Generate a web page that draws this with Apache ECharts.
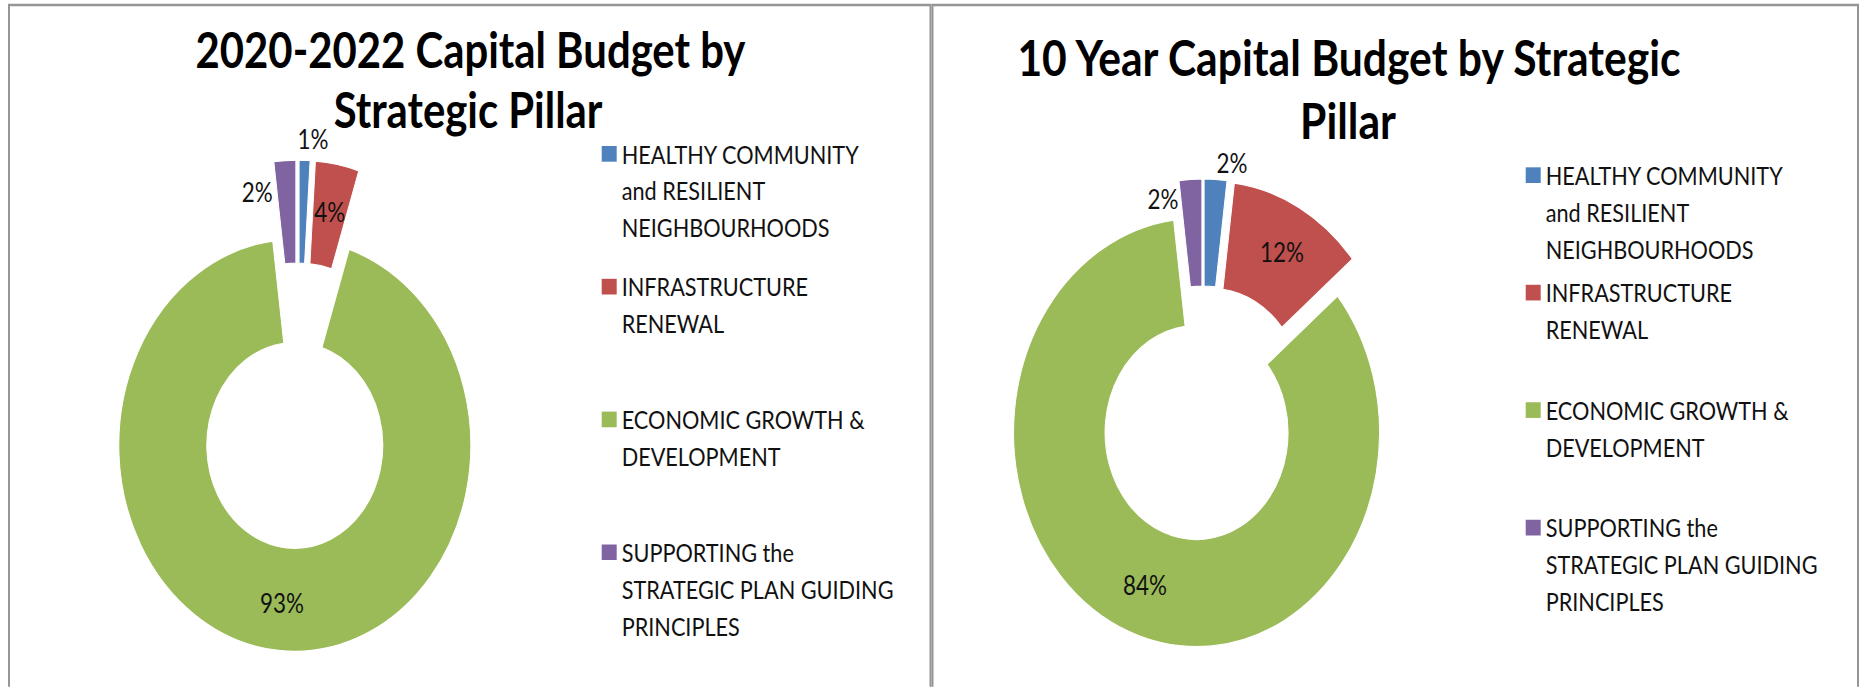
<!DOCTYPE html>
<html><head><meta charset="utf-8">
<script src="https://cdn.jsdelivr.net/npm/echarts@6/dist/echarts.min.js"></script>
<style>
html,body{margin:0;padding:0;background:#fff;overflow:hidden;width:1863px;height:687px}
#c{width:1863px;height:587.18px;transform:scaleY(1.17);transform-origin:0 0}
</style></head><body><div id="c"></div>
<script>
// ---- data ----
const categories = [
  'HEALTHY COMMUNITY and RESILIENT NEIGHBOURHOODS',
  'INFRASTRUCTURE RENEWAL',
  'ECONOMIC GROWTH & DEVELOPMENT',
  'SUPPORTING the STRATEGIC PLAN GUIDING PRINCIPLES'
];
const legendLines = [
  'HEALTHY COMMUNITY\nand RESILIENT\nNEIGHBOURHOODS',
  'INFRASTRUCTURE\nRENEWAL\n ',
  'ECONOMIC GROWTH &\nDEVELOPMENT\n ',
  'SUPPORTING the\nSTRATEGIC PLAN GUIDING\nPRINCIPLES'
];
const budget2020to2022 = [1, 4, 93, 2];
const budget10Year = [2, 12, 84, 2];
const titleLeftLines = ['2020-2022 Capital Budget by', 'Strategic Pillar'];
const titleRightLines = ['10 Year Capital Budget by Strategic', 'Pillar'];

// ---- styles / layout ----
const colors = ['#4F81BD', '#C0504D', '#9BBB59', '#8064A2'];
const FONT = 'Lato, Carlito, "Open Sans", sans-serif';
const K = 0.387; // baseline offset below line centre (fraction of font size)

const ctx = document.createElement('canvas').getContext('2d');
function fit(text, weight, target) {
  ctx.font = weight + ' 100px ' + FONT;
  return 100 * target / ctx.measureText(text).width;
}
const titleSizeL = fit(titleLeftLines[0], 'bold', 550);
const titleSizeR = fit(titleRightLines[0], 'bold', 667);
const legendSize = fit('HEALTHY COMMUNITY', 'normal', 238);
const labelSize = fit('93%', 'normal', 44);

function titleCfg(text, cx, baseline, size) {
  return {
    text, left: cx, textAlign: 'center', padding: 0,
    top: baseline - K * size - size / 2,
    textStyle: {fontFamily: FONT, fontWeight: 'bold', fontSize: size,
      lineHeight: size, color: '#000'}
  };
}

const LEG_LH = 31.6, ITEM_H = 3 * LEG_LH, SQ = 13.4;
const iconPath = 'path://M0,0M15,' + ITEM_H + 'M0,' + (LEG_LH / 2 - SQ / 2) +
  'h15v' + SQ + 'h-15z';
function legendCfg(left, top, gap) {
  return {
    orient: 'vertical', left, top, padding: 0, itemGap: gap,
    itemWidth: 15, itemHeight: ITEM_H, icon: iconPath, selectedMode: false,
    data: categories.slice(),
    formatter: name => legendLines[categories.indexOf(name)],
    itemStyle: {borderWidth: 0},
    textStyle: {fontFamily: FONT, fontSize: legendSize, lineHeight: LEG_LH, color: '#111'}
  };
}

function pieCfg(values, center, radius, offset, shifts) {
  return {
    type: 'pie', center, radius, startAngle: 90, clockwise: true,
    selectedMode: 'multiple', selectedOffset: offset,
    avoidLabelOverlap: false, animation: false,
    itemStyle: {borderColor: '#fff', borderWidth: 1},
    select: {itemStyle: {borderColor: '#fff', borderWidth: 1}},
    emphasis: {disabled: true},
    label: {show: true, position: 'inside', formatter: p => p.value + '%',
      fontFamily: FONT, fontSize: labelSize, color: '#111'},
    labelLine: {show: false},
    labelLayout: p => ({dx: shifts[p.dataIndex][0], dy: shifts[p.dataIndex][1]}),
    data: values.map((v, i) => ({name: categories[i], value: v, selected: true,
      itemStyle: {color: colors[i]}}))
  };
}

const leftShifts = [[9.8, -59.5], [0, 0], [0, 0], [-30.1, -14.5]];
const rightShifts = [[19, -57.2], [3, 0], [0, 0], [-30, -26.4]];

const chart = echarts.init(document.getElementById('c'), null, {renderer: 'svg'});
chart.setOption({
  animation: false,
  stateAnimation: {duration: 0},
  backgroundColor: '#fff',
  textStyle: {fontFamily: FONT},
  title: [
    titleCfg(titleLeftLines[0], 470.5, 58.1, titleSizeL),
    titleCfg(titleLeftLines[1], 468, 109.1, titleSizeL),
    titleCfg(titleRightLines[0], 1349, 64.6, titleSizeR),
    titleCfg(titleRightLines[1], 1348, 118.4, titleSizeR)
  ],
  legend: [legendCfg(601.7, 115.7, 113.5 - ITEM_H), legendCfg(1525.7, 133.9, 100.4 - ITEM_H)],
  graphic: [
    {type: 'rect', silent: true, shape: {x: 9, y: 4.3, width: 921.5, height: 700},
      style: {fill: 'none', stroke: '#959595', lineWidth: 2}},
    {type: 'rect', silent: true, shape: {x: 932.5, y: 4.3, width: 925.5, height: 700},
      style: {fill: 'none', stroke: '#959595', lineWidth: 2}}
  ],
  series: [
    pieCfg(budget2020to2022, [298, 346.8], [88, 176], 34, leftShifts),
    pieCfg(budget10Year, [1203, 353.4], [91.5, 183], 17.5, rightShifts)
  ]
});
</script></body></html>
